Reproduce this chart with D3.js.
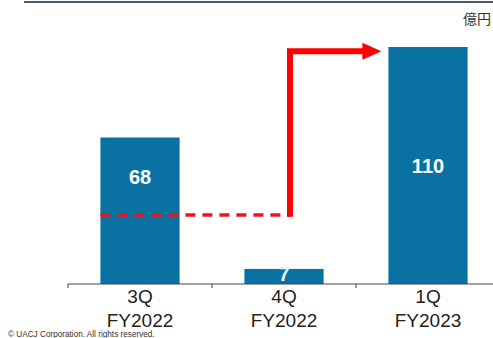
<!DOCTYPE html>
<html><head><meta charset="utf-8">
<script src="https://cdn.jsdelivr.net/npm/d3@7"></script>
<style>body{margin:0;background:#fff}svg{display:block}</style>
</head><body>
<script>
const categories = ["3Q\nFY2022", "4Q\nFY2022", "1Q\nFY2023"];
const values = [68, 7, 110];
const unitLabel = "億円";
const arrowFrom = 32;   // dashed baseline level
const arrowTo = 108;    // arrow top level
const copyright = "© UACJ Corporation. All rights reserved.";

const W = 493, H = 338;
const svg = d3.select("body").append("svg").attr("width", W).attr("height", H);

const x = d3.scaleBand().domain(categories).range([68, 500]).paddingInner(0.45).paddingOuter(0.225);
const y = d3.scaleLinear().domain([0, 110]).range([284, 47]);

// top rule
svg.append("line").attr("x1", 24).attr("x2", 493).attr("y1", 2).attr("y2", 2)
  .attr("stroke", "#4b5a6d").attr("stroke-width", 2);

svg.append("text").attr("x", 491).attr("y", 24).attr("text-anchor", "end")
  .attr("font-family", "Noto Sans CJK JP").attr("font-size", 14).attr("fill", "#333").text(unitLabel);

// bars
svg.selectAll("rect.bar").data(values).join("rect").attr("class", "bar")
  .attr("x", (d, i) => x(categories[i])).attr("width", x.bandwidth())
  .attr("y", d => y(d)).attr("height", d => y(0) - y(d)).attr("fill", "#0a72a2");

// arrow
const xs = x(categories[0]);
const xv = 290;
const xe = x(categories[2]);
svg.append("line").attr("x1", xs).attr("x2", xv).attr("y1", y(arrowFrom)).attr("y2", y(arrowFrom))
  .attr("stroke", "#e8161b").attr("stroke-width", 3.5).attr("stroke-dasharray", "10,7");
svg.append("path").attr("d", `M${xv},${y(arrowFrom) + 1.75} L${xv},${y(arrowTo)} L${xe - 25},${y(arrowTo)}`)
  .attr("fill", "none").attr("stroke", "#f00").attr("stroke-width", 6).attr("stroke-linejoin", "miter");
svg.append("path").attr("d", `M${xe - 26},${y(arrowTo) - 8.5} L${xe - 7},${y(arrowTo)} L${xe - 26},${y(arrowTo) + 8.5} Z`)
  .attr("fill", "#f00");

// axis
const axis = svg.append("g");
axis.append("line").attr("x1", 68).attr("x2", 493).attr("y1", y(0)).attr("y2", y(0))
  .attr("stroke", "#444").attr("stroke-width", 1);
[0, 1, 2].forEach(i => {
  const tx = x(categories[i]) - x.step() * x.paddingInner() / 2;
  axis.append("line").attr("x1", tx).attr("x2", tx).attr("y1", y(0)).attr("y2", y(0) + 4)
    .attr("stroke", "#444");
});

// value labels
function labelY(d, i) {
  if (d < 20) return y(0) - 3;
  const top = y(d), bot = i === 0 ? y(arrowFrom) : y(0);
  return (top + bot) / 2 + 7.5;
}
svg.selectAll("text.val").data(values).join("text").attr("class", "val")
  .attr("x", (d, i) => x(categories[i]) + x.bandwidth() / 2)
  .attr("y", labelY)
  .attr("text-anchor", "middle").attr("font-family", "Liberation Sans, Arial, sans-serif")
  .attr("font-weight", "bold").attr("font-size", 20)
  .attr("fill", d => d > 20 ? "#fff" : "#e4f3fa")
  .text(d => d);

// category labels
categories.forEach(c => {
  const lines = c.split("\n");
  const t = svg.append("text").attr("text-anchor", "middle")
    .attr("font-family", "Liberation Sans, Arial, sans-serif").attr("font-size", 19).attr("fill", "#222");
  lines.forEach((l, j) => t.append("tspan").attr("x", x(c) + x.bandwidth() / 2).attr("y", 303 + j * 24).text(l));
});

svg.append("text").attr("x", 8).attr("y", 337).attr("font-family", "Liberation Sans, Arial, sans-serif")
  .attr("font-size", 8.2).attr("fill", "#333").text(copyright);
</script>
</body></html>
